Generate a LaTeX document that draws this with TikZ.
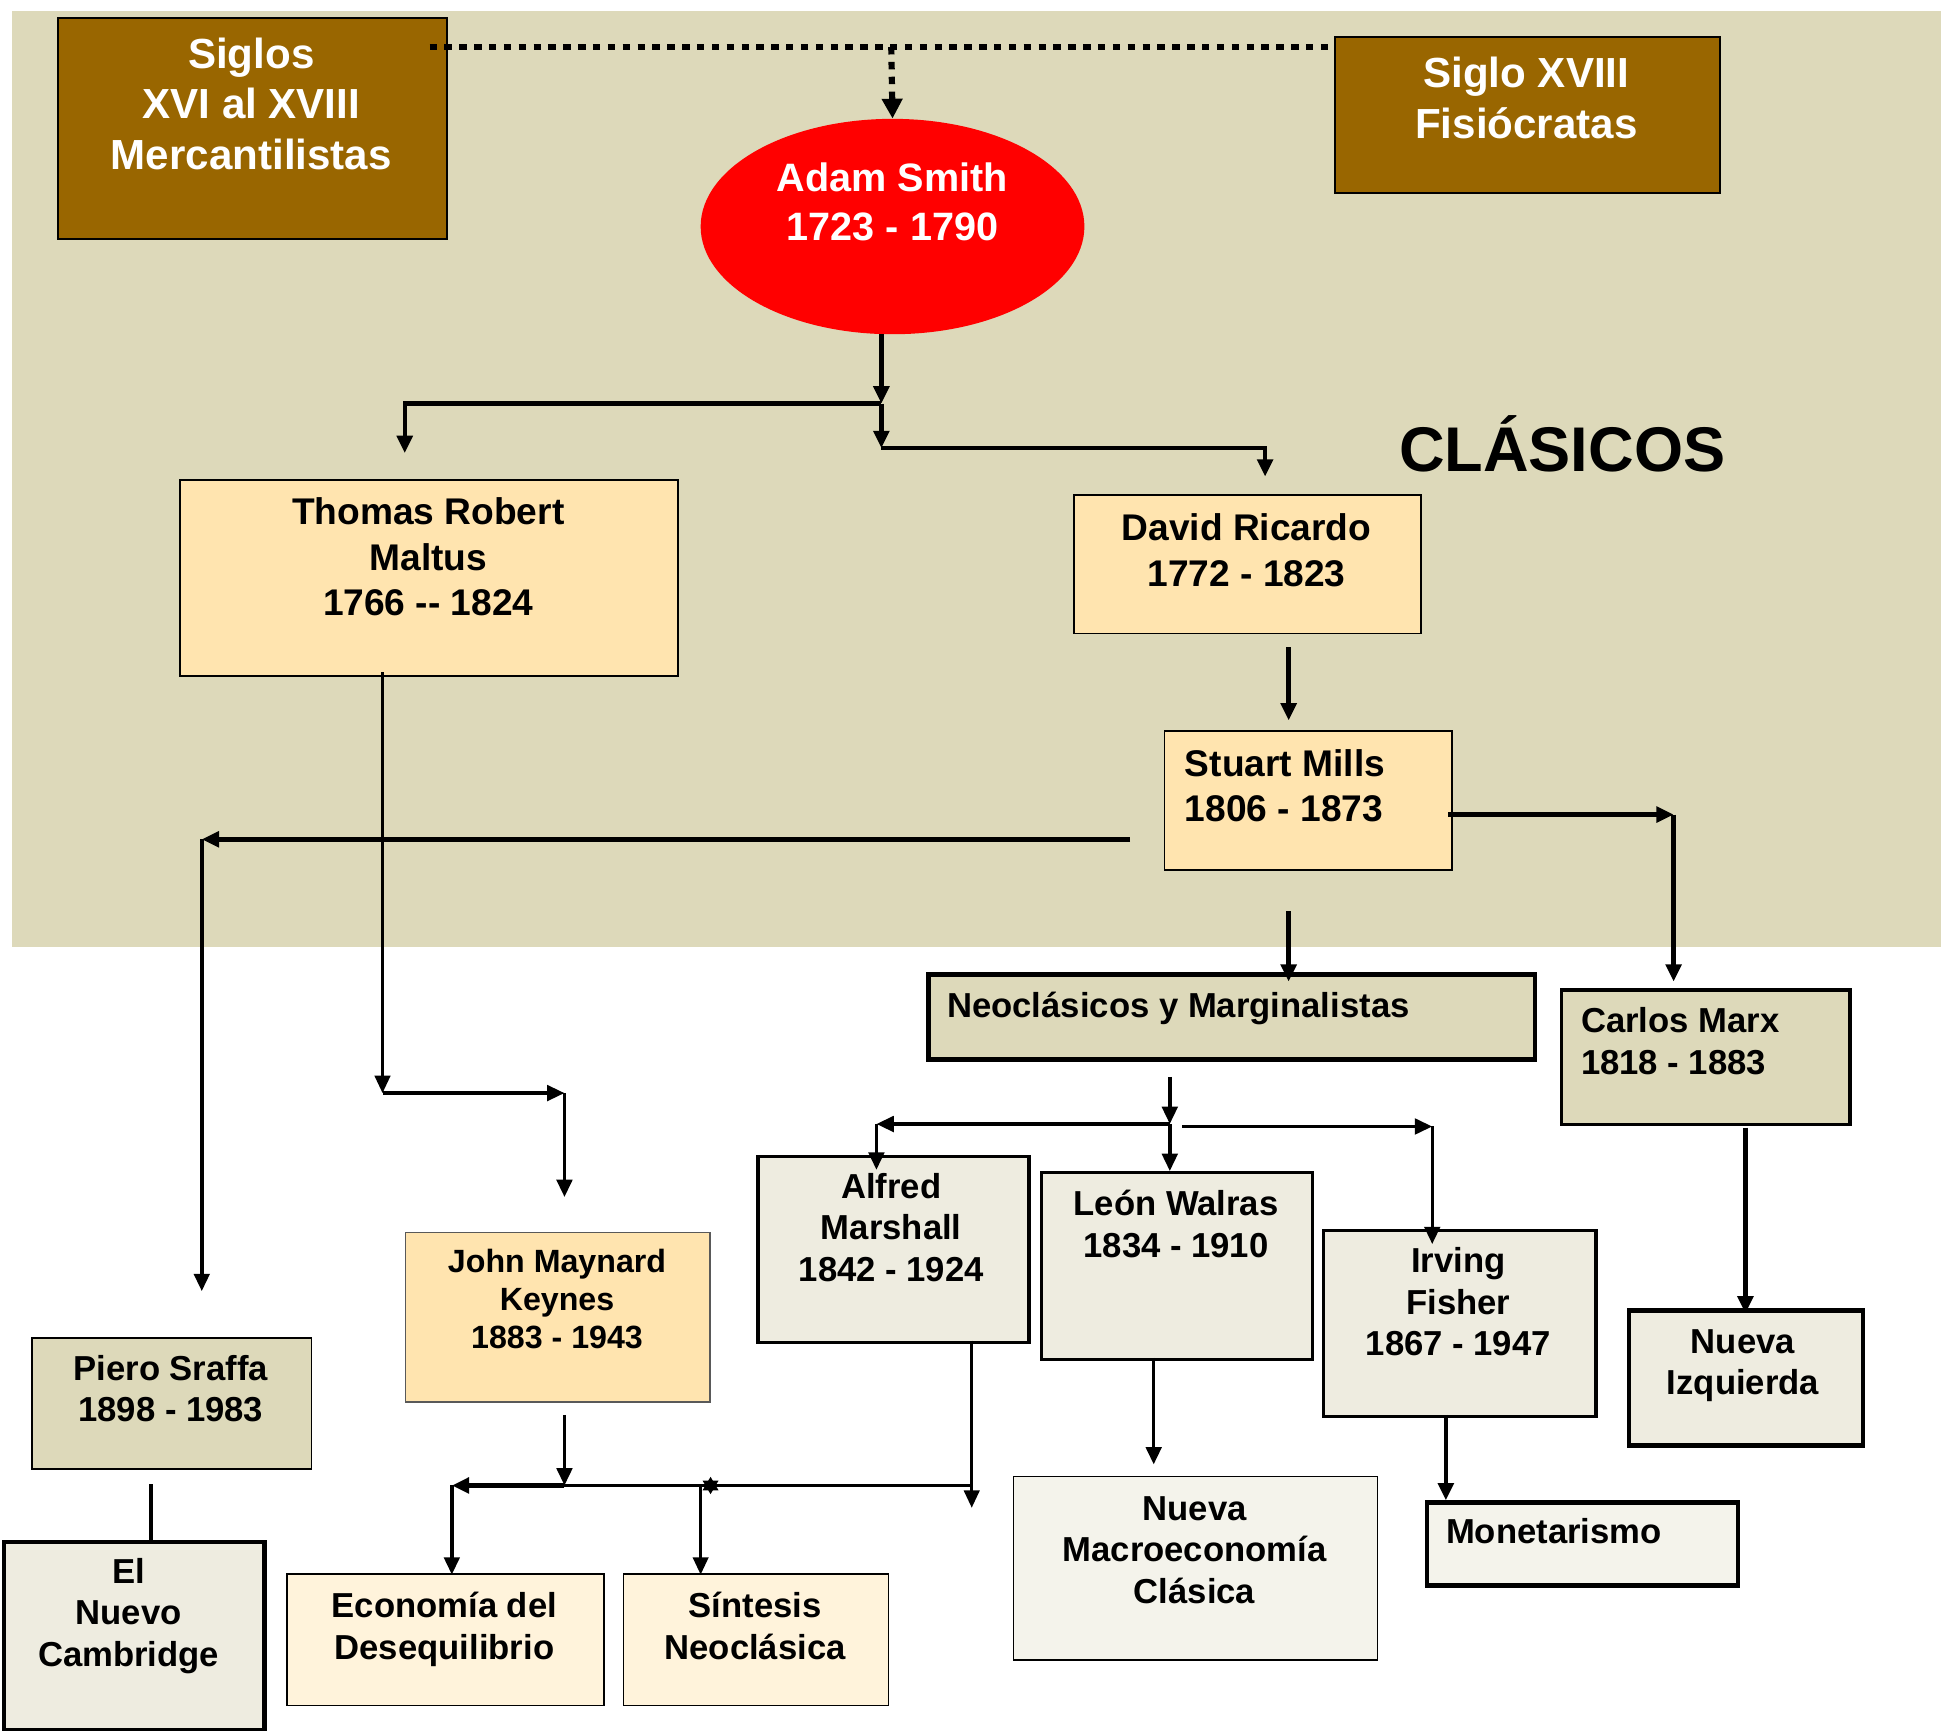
\documentclass[tikz,border=0pt]{standalone}
\usepackage{fontspec}
\setmainfont{Liberation Sans}
\usetikzlibrary{arrows.meta,shapes.geometric}
\definecolor{tanbg}{HTML}{DDD9BA}
\definecolor{brownbox}{HTML}{996600}
\definecolor{peach}{HTML}{FFE4AF}
\definecolor{lpeach}{HTML}{FFF3DB}
\definecolor{ltan}{HTML}{EEECE0}
\definecolor{lltan}{HTML}{F4F3EB}
\begin{document}
\begin{tikzpicture}[x=1pt,y=-1pt,
  bx/.style={draw=black,rectangle,inner sep=0pt,anchor=north west},
  tx/.style={inner sep=0pt,align=center,anchor=base},
  txl/.style={inner sep=0pt,align=left,anchor=base west},
  fH/.style={font=\fontsize{34}{41}\selectfont\bfseries},
  fA/.style={font=\fontsize{32}{40}\selectfont\bfseries},
  fC/.style={font=\fontsize{51}{60}\selectfont\bfseries},
  fB/.style={font=\fontsize{30}{36.5}\selectfont\bfseries},
  fN/.style={font=\fontsize{28}{33.6}\selectfont\bfseries},
  fK/.style={font=\fontsize{26}{30.8}\selectfont\bfseries},
  tip/.style={-{Triangle[length=14pt,width=12.5pt]}},
  thk/.style={line width=3.6pt},
  med/.style={line width=2.8pt},
  thn/.style={line width=2.2pt},
  dotl/.style={line width=5pt,dash pattern=on 6pt off 6pt}]
\useasboundingbox (0,0) rectangle (1568,1398);
\fill[white] (0,0) rectangle (1568,1398);
\fill[tanbg] (10,9) rectangle (1568,765);

% boxes
\node[bx,fill=brownbox,line width=1.5pt,minimum width=314pt,minimum height=178pt] (siglos) at (46,14) {};
\node[bx,fill=brownbox,line width=1.5pt,minimum width=311pt,minimum height=126pt] (fisio) at (1078,29) {};
\node[ellipse,fill=red,inner sep=0pt,minimum width=310pt,minimum height=174pt] (adam) at (721,183) {};
\node[bx,fill=peach,line width=1.5pt,minimum width=402pt,minimum height=158pt] (malt) at (145,387) {};
\node[bx,fill=peach,line width=1.5pt,minimum width=280pt,minimum height=112pt] (ricardo) at (867,399) {};
\node[bx,fill=peach,line width=1.5pt,minimum width=232pt,minimum height=112pt] (mills) at (940,590) {};
\node[bx,fill=tanbg,line width=4pt,minimum width=490pt,minimum height=69pt] (neoc) at (748,785) {};
\node[bx,fill=tanbg,line width=3pt,minimum width=233pt,minimum height=109pt] (marx) at (1260,798) {};
\node[bx,fill=ltan,line width=2.6pt,minimum width=219pt,minimum height=150pt] (alfred) at (611,933) {};
\node[bx,fill=ltan,line width=2.6pt,minimum width=219pt,minimum height=151pt] (walras) at (840,946) {};
\node[bx,fill=ltan,line width=2.6pt,minimum width=220pt,minimum height=150pt] (fisher) at (1068,993) {};
\node[bx,fill=ltan,line width=3.6pt,minimum width=189pt,minimum height=109pt] (izq) at (1314,1057) {};
\node[bx,fill=lltan,line width=1.4pt,minimum width=294pt,minimum height=148pt] (nmc) at (818,1192) {};
\node[bx,fill=lltan,line width=3.6pt,minimum width=251pt,minimum height=67pt] (monet) at (1151,1212) {};
\node[bx,fill=peach,draw=gray!70!black,line width=1pt,minimum width=246pt,minimum height=137pt] (keynes) at (327,995) {};
\node[bx,fill=lpeach,line width=1.4pt,minimum width=256pt,minimum height=106pt] (deseq) at (231,1271) {};
\node[bx,fill=lpeach,line width=1.4pt,minimum width=214pt,minimum height=106pt] (sintesis) at (503,1271) {};
\node[bx,fill=tanbg,line width=1.4pt,minimum width=226pt,minimum height=106pt] (sraffa) at (25,1080) {};
\node[bx,fill=ltan,line width=3.6pt,minimum width=210.5pt,minimum height=152pt] (cambridge) at (1.5,1244) {};

% texts (anchor = baseline of last line)
\node[tx,fH,text=white] (siglosT) at (203,137) {Siglos\\XVI al XVIII\\Mercantilistas};
\node[tx,fH,text=white] (fisioT) at (1233,112) {Siglo XVIII\\Fisiócratas};
\node[tx,fA,text=white] (adamT) at (721,194.5) {Adam Smith\\1723 - 1790};
\node[tx,fC] (clasT) at (1262,381) {CLÁSICOS};
\node[tx,fB] (maltT) at (346,497) {Thomas Robert\\Maltus\\1766 -{}- 1824};
\node[tx,fB] (ricT) at (1007,473.5) {David Ricardo\\1772 - 1823};
\node[txl,fB] (millsT) at (957,663.5) {Stuart Mills\\1806 - 1873};
\node[txl,fN] (neocT) at (765,822) {Neoclásicos y Marginalistas};
\node[txl,fN] (marxT) at (1277,867.6) {Carlos Marx\\1818 - 1883};
\node[tx,fN] (alfT) at (720,1035.2) {Alfred\\Marshall\\1842 - 1924};
\node[tx,fN] (walT) at (950,1015.6) {León Walras\\1834 - 1910};
\node[tx,fN] (fishT) at (1178,1095.2) {Irving\\Fisher\\1867 - 1947};
\node[tx,fN] (izqT) at (1408,1126.6) {Nueva\\Izquierda};
\node[tx,fN] (nmcT) at (965,1295.2) {Nueva\\Macroeconomía\\Clásica};
\node[txl,fN] (monT) at (1168,1247) {Monetarismo};
\node[tx,fK] (keyT) at (450,1089.6) {John Maynard\\Keynes\\1883 - 1943};
\node[tx,fN] (desT) at (359,1340.6) {Economía del\\Desequilibrio};
\node[tx,fN] (sinT) at (610,1340.6) {Síntesis\\Neoclásica};
\node[tx,fN] (sraT) at (138,1148.6) {Piero Sraffa\\1898 - 1983};
\node[tx,fN] (camT) at (104,1346.2) {El\\Nuevo\\Cambridge};

% coordinates
\coordinate (dotL) at (347,38);
\coordinate (dotR) at (1078,38);
\coordinate (dotM) at (720,38);
\coordinate (a0) at (712,270);
\coordinate (jA) at (712,326);
\coordinate (jB) at (712,362);
\coordinate (tM) at (327,366);
\coordinate (tR) at (1022,385);
\coordinate (r0) at (1041,523);
\coordinate (r1) at (1041,582);
\coordinate (s0) at (913,678);
\coordinate (s1) at (163,678);
\coordinate (s2) at (163,1043);
\coordinate (m0) at (1170,658);
\coordinate (m1) at (1352,658);
\coordinate (m2) at (1352,793);
\coordinate (n0) at (1041,736);
\coordinate (n1) at (1041,793);
\coordinate (k0) at (309,543);
\coordinate (k1) at (309,883);
\coordinate (k2) at (456,883);
\coordinate (k3) at (456,967);
\coordinate (q0) at (945,870);
\coordinate (q1) at (945,908);
\coordinate (q2) at (708,908);
\coordinate (q3) at (708,945);
\coordinate (q4) at (945,946);
\coordinate (q5) at (955,910);
\coordinate (q6) at (1157,910);
\coordinate (q7) at (1157,1005);
\coordinate (x0) at (1410,911);
\coordinate (x1) at (1410,1061);
\coordinate (w0) at (932,1097);
\coordinate (w1) at (932,1183);
\coordinate (f0) at (1168,1143);
\coordinate (f1) at (1168,1212);
\coordinate (y0) at (456,1143);
\coordinate (y1) at (456,1200);
\coordinate (y2) at (365,1200);
\coordinate (y3) at (365,1272);
\coordinate (y4) at (785,1200);
\coordinate (y5) at (785,1083);
\coordinate (y6) at (785,1218);
\coordinate (y7) at (566,1200);
\coordinate (y8) at (566,1272);
\coordinate (st) at (574,1200);
\coordinate (p0) at (122,1199);
\coordinate (p1) at (122,1244);

% connectors
\draw[dotl] (dotL) -- (dotR);
\draw[dotl,-{Triangle[length=16pt,width=16pt]}] (dotM) -- (adam.north);
\draw[thk,tip] (a0) -- (jA);
\draw[thk,tip] (jA) -| (tM);
\draw[thk,tip] (jA) -- (jB);
\draw[thk,tip] (jB) -| (tR);
\draw[thk,tip] (r0) -- (r1);
\draw[thk,tip] (s0) -- (s1);
\draw[med,tip] (s1) -- (s2);
\draw[thk,tip] (m0) -- (m1);
\draw[thk,tip] (m1) -- (m2);
\draw[thk,tip] (n0) -- (n1);
\draw[thn,tip] (k0) -- (k1);
\draw[med,tip] (k1) -- (k2);
\draw[med,tip] (k2) -- (k3);
\draw[med,tip] (q0) -- (q1);
\draw[med,tip] (q1) -- (q2);
\draw[med,tip] (q2) -- (q3);
\draw[med,tip] (q1) -- (q4);
\draw[med,tip] (q5) -- (q6);
\draw[med,tip] (q6) -- (q7);
\draw[thk,tip] (x0) -- (x1);
\draw[med,tip] (w0) -- (w1);
\draw[thk,tip] (f0) -- (f1);
\draw[med,tip] (y0) -- (y1);
\draw[thk,tip] (y1) -- (y2);
\draw[med,tip] (y2) -- (y3);
\draw[thn] (y1) -- (y4);
\draw[thn,tip] (y5) -- (y6);
\draw[thn,tip] (y7) -- (y8);
\fill ([shift={(0,-7)}]st) -- ([shift={(6.5,4)}]st) -- ([shift={(-6.5,4)}]st) -- cycle;
\fill ([shift={(0,7)}]st) -- ([shift={(6.5,-4)}]st) -- ([shift={(-6.5,-4)}]st) -- cycle;
\draw[thk] (p0) -- (p1);
\end{tikzpicture}
\end{document}
